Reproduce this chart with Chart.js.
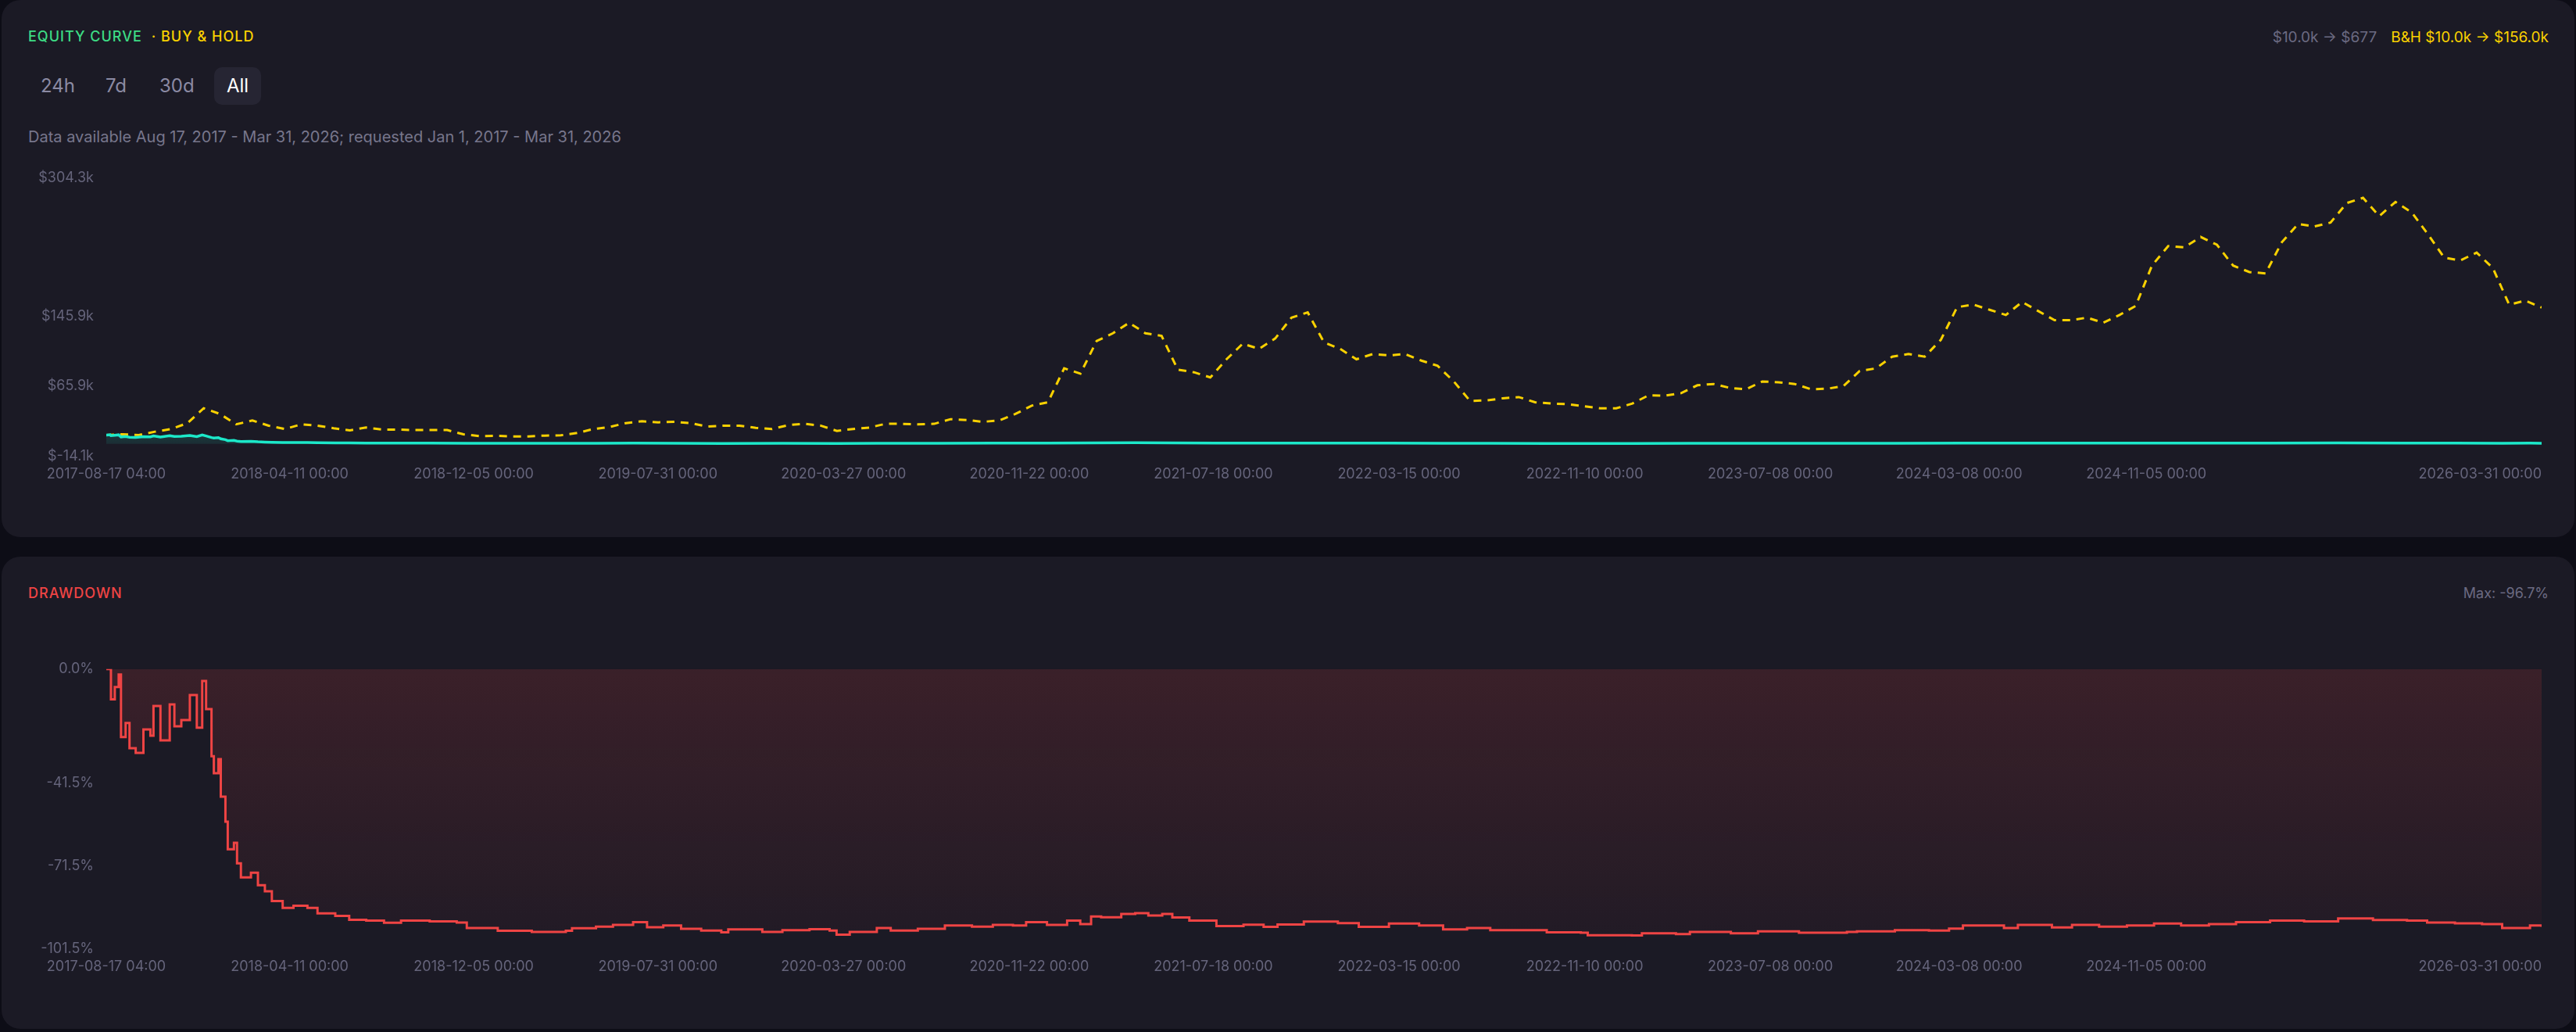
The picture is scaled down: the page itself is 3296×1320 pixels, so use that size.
<!DOCTYPE html>
<html>
<head>
<meta charset="utf-8">
<script src="https://cdn.jsdelivr.net/npm/chart.js@4.4.1/dist/chart.umd.min.js"></script>
<style>
  html, body { margin: 0; padding: 0; }
  body {
    width: 3296px; height: 1320px; overflow: hidden;
    background: #0d0d16;
    font-family: Inter, "Noto Sans", sans-serif;
    position: relative;
  }
  .card { position: absolute; left: 2px; width: 3292px; background: #1b1a25; border-radius: 24px; }
  .abs { position: absolute; white-space: nowrap; }
  .title { font-size: 18px; line-height: 18px; letter-spacing: 1px; font-weight: 500; }
  .meta { font-size: 19px; line-height: 19px; }
  .btn {
    position: absolute; top: 86px; height: 48px; line-height: 48px;
    padding: 0 16px; font-size: 24px; color: #8b8aa3; border-radius: 10px;
  }
  .btn.on { background: #262533; color: #ffffff; }
  canvas { position: absolute; }
</style>
</head>
<body>
<div class="card" style="top:0;height:687px"></div>
<div class="card" style="top:712px;height:604px"></div>

<div class="abs title" style="left:36px;top:38px">
  <span style="color:#3ddc84">EQUITY CURVE</span><span style="color:#f9d100;margin-left:12px">· BUY &amp; HOLD</span>
</div>
<div class="abs meta" style="right:35px;top:38px">
  <span style="color:#6b6a82">$10.0k → $677</span><span style="color:#f9d100;margin-left:18px">B&amp;H $10.0k → $156.0k</span>
</div>

<div class="btn" style="left:36px">24h</div>
<div class="btn" style="left:119px">7d</div>
<div class="btn" style="left:188px">30d</div>
<div class="btn on" style="left:274px">All</div>

<div class="abs" style="left:36px;top:165px;color:#77768c;font-size:20px;line-height:20px">Data available Aug 17, 2017 - Mar 31, 2026; requested Jan 1, 2017 - Mar 31, 2026</div>

<canvas id="equity" width="3228" height="428" style="left:36px;top:201px;width:3228px;height:428px"></canvas>

<div class="abs title" style="left:36px;top:750px;color:#ef4444">DRAWDOWN</div>
<div class="abs" style="right:35px;top:750px;color:#6b6a82;font-size:18px;line-height:18px">Max: -96.7%</div>

<canvas id="drawdown" width="3228" height="430" style="left:36px;top:829px;width:3228px;height:430px"></canvas>

<script>
// x axis is days since 2017-08-17 04:00
const TOTAL_DAYS = 3148;
const tickDays = [0, 237, 475, 713, 953, 1193, 1431, 1671, 1911, 2151, 2395, 2637, 3148];
const tickLabels = [
  "2017-08-17 04:00", "2018-04-11 00:00", "2018-12-05 00:00", "2019-07-31 00:00",
  "2020-03-27 00:00", "2020-11-22 00:00", "2021-07-18 00:00", "2022-03-15 00:00",
  "2022-11-10 00:00", "2023-07-08 00:00", "2024-03-08 00:00", "2024-11-05 00:00",
  "2026-03-31 00:00"
];

// buy & hold value in $k, one sample every TOTAL_DAYS/150 days
const bhValues = [
  10.0, 10.9, 10.0, 13.9, 16.9, 23.7, 40.7, 34.2, 22.3, 26.7,
  20.8, 16.9, 22.3, 20.8, 17.8, 15.4, 18.6, 16.3, 16.3, 15.7,
  15.7, 15.7, 10.9, 8.8, 9.1, 8.5, 8.5, 9.4, 9.7, 12.4,
  16.9, 19.3, 23.7, 25.8, 24.6, 25.2, 23.7, 19.8, 20.8, 20.8,
  18.3, 16.9, 21.4, 22.9, 20.8, 14.8, 16.9, 18.6, 22.9, 22.9,
  22.3, 22.9, 28.2, 27.3, 25.2, 26.7, 34.2, 43.7, 47.6, 86.4,
  80.4, 117.7, 126.6, 138.6, 126.6, 123.6, 84.9, 81.9, 76.0, 96.8,
  114.7, 108.7, 120.7, 144.5, 150.5, 116.2, 108.7, 96.8, 102.8, 101.3,
  102.8, 95.3, 89.3, 71.4, 49.1, 49.7, 52.1, 53.5, 47.6, 46.1,
  45.5, 43.1, 40.7, 40.7, 46.1, 55.6, 55.1, 58.0, 67.0, 68.5,
  64.0, 62.5, 71.4, 70.5, 68.5, 62.5, 63.1, 66.1, 83.4, 86.4,
  99.8, 102.8, 99.8, 119.2, 156.5, 159.4, 153.5, 147.5, 162.4, 152.0,
  141.5, 141.5, 144.5, 138.6, 147.5, 157.9, 204.1, 226.5, 225.0, 236.9,
  228.0, 204.1, 196.7, 195.2, 230.9, 251.8, 248.9, 253.3, 275.7, 281.7,
  260.8, 277.0, 265.0, 239.9, 213.1, 210.1, 219.0, 201.2, 159.4, 163.9,
  156.0
];

// strategy equity in $k
const eqDays = [
  0, 5, 6, 11, 16, 19, 25, 30, 38, 48, 57, 61, 70, 82, 88, 97, 108, 117, 124, 129,
  136, 139, 145, 148, 154, 157, 165, 169, 174, 187, 196, 205, 214, 228, 242, 260, 273, 296, 314, 336,
  359, 381, 418, 466, 550, 633, 681, 743, 795, 874, 944, 996, 1075, 1146, 1216, 1273, 1330, 1378, 1435, 1514,
  1592, 1658, 1728, 1789, 1862, 1915, 1972, 2047, 2135, 2250, 2312, 2400, 2471, 2541, 2647, 2753, 2797, 2885, 2974, 3036,
  3097, 3133, 3148
];
const eqValues = [
  10.0, 10.4, 9.3, 9.8, 10.3, 7.9, 8.4, 7.5, 7.3, 8.2, 8.0, 9.1, 7.8, 9.2, 8.4, 8.6, 9.5, 8.3, 10.1, 9.0,
  7.2, 6.6, 7.1, 5.7, 4.7, 3.6, 3.9, 3.1, 2.6, 2.8, 2.3, 2.0, 1.7, 1.4, 1.5, 1.4, 1.2, 1.1, 0.95, 0.92,
  0.84, 0.92, 0.89, 0.64, 0.49, 0.69, 0.86, 0.60, 0.47, 0.55, 0.38, 0.64, 0.60, 0.75, 0.75, 1.08, 1.21, 1.04, 0.71, 0.77,
  0.83, 0.80, 0.58, 0.55, 0.47, 0.36, 0.34, 0.49, 0.51, 0.49, 0.55, 0.73, 0.75, 0.75, 0.80, 0.86, 0.92, 1.01, 0.92, 0.82,
  0.64, 0.73, 0.677
];

// drawdown in %
const ddDays = [
  0, 5, 6, 11, 16, 19, 25, 30, 38, 48, 57, 61, 70, 82, 88, 97, 108, 117, 124, 129,
  136, 139, 145, 148, 154, 157, 165, 169, 174, 187, 196, 205, 214, 228, 242, 260, 273, 296, 314, 336,
  359, 381, 418, 453, 466, 506, 550, 594, 602, 633, 655, 681, 699, 720, 743, 769, 795, 804, 848, 874,
  909, 935, 944, 961, 996, 1014, 1049, 1075, 1084, 1119, 1146, 1172, 1189, 1216, 1242, 1259, 1273, 1286, 1312, 1330,
  1347, 1365, 1378, 1400, 1435, 1470, 1496, 1514, 1548, 1592, 1619, 1658, 1697, 1728, 1759, 1789, 1826, 1862, 1906, 1915,
  1972, 1985, 2029, 2047, 2100, 2135, 2188, 2250, 2263, 2312, 2356, 2382, 2400, 2427, 2453, 2471, 2515, 2541, 2576, 2612,
  2647, 2682, 2718, 2753, 2797, 2841, 2885, 2930, 2974, 3000, 3036, 3071, 3097, 3133, 3148
];
const ddValues = [
  0, 0, -11.0, -6.5, -2.0, -24.7, -19.6, -28.7, -30.4, -21.9, -24.2, -13.4, -25.9, -12.8, -20.8, -18.5, -9.4, -21.3, -4.3, -14.5,
  -31.6, -37.8, -32.7, -46.3, -55.4, -65.4, -63.1, -70.5, -75.6, -73.9, -78.5, -80.7, -84.2, -86.7, -85.9, -86.7, -88.7, -89.6, -91.0, -91.3,
  -92.1, -91.3, -91.6, -92.0, -94.0, -95.0, -95.4, -95.0, -94.1, -93.5, -92.9, -91.9, -93.7, -93.1, -94.3, -94.9, -95.6, -94.5, -95.4, -94.8,
  -94.4, -94.9, -96.4, -95.4, -94.0, -94.9, -94.3, -94.3, -93.1, -93.5, -92.9, -93.1, -91.9, -92.9, -91.3, -92.6, -89.8, -90.1, -88.9, -88.6,
  -89.5, -88.9, -90.2, -91.3, -93.3, -92.8, -93.6, -92.7, -91.7, -92.2, -93.6, -92.4, -93.1, -94.5, -94.0, -94.8, -94.8, -95.6, -95.7, -96.6,
  -96.7, -95.9, -96.2, -95.4, -95.9, -95.2, -95.7, -95.4, -95.2, -94.8, -94.9, -94.2, -93.1, -93.1, -94.0, -92.9, -93.8, -92.9, -93.5, -93.1,
  -92.4, -93.1, -92.6, -91.9, -91.3, -91.6, -90.5, -91.1, -91.3, -92.0, -92.3, -92.6, -94.0, -93.1, -93.6
];

const equityTicks = [-14.1, 65.9, 145.9, 304.3];
const ddTicks = [-101.5, -71.5, -41.5, 0];

const TICK_COLOR = '#65647b';
Chart.defaults.font.family = 'Inter, "Noto Sans", sans-serif';
Chart.defaults.font.size = 18;
Chart.defaults.color = TICK_COLOR;

function xAxis() {
  return {
    type: 'linear',
    min: 0,
    max: TOTAL_DAYS,
    grid: { display: false, drawTicks: false },
    border: { display: false },
    afterBuildTicks: (scale) => {
      // leading empty tick so the real first label stays centred while the last one is pushed inside
      scale.ticks = [{ value: 0 }].concat(tickDays.map(d => ({ value: d })));
    },
    ticks: {
      autoSkip: false,
      maxRotation: 0,
      align: 'inner',
      padding: 12,
      color: TICK_COLOR,
      callback: (v, i) => i === 0 ? '' : tickLabels[i - 1]
    }
  };
}

function yAxis(min, max, ticksList, fmt) {
  return {
    min: min,
    max: max,
    grid: { display: false, drawTicks: false },
    border: { display: false },
    afterFit: (scale) => { scale.width = 100; },
    afterBuildTicks: (scale) => { scale.ticks = ticksList.map(v => ({ value: v })); },
    ticks: { padding: 16, color: TICK_COLOR, callback: fmt }
  };
}

const fmtK = v => '$' + v.toFixed(1) + 'k';
const fmtPct = v => v.toFixed(1) + '%';

new Chart(document.getElementById('equity'), {
  type: 'line',
  data: {
    datasets: [
      {
        label: 'Equity',
        data: eqDays.map((d, i) => ({ x: d, y: eqValues[i] })),
        borderColor: '#1ce8c9',
        borderWidth: 3.5,
        pointRadius: 0,
        tension: 0,
        fill: 'origin',
        backgroundColor: (ctx) => {
          const area = ctx.chart.chartArea;
          if (!area) return 'rgba(28,232,201,0.1)';
          const g = ctx.chart.ctx.createLinearGradient(0, area.bottom - 30, 0, area.bottom);
          g.addColorStop(0, 'rgba(28,232,201,0.16)');
          g.addColorStop(1, 'rgba(28,232,201,0.02)');
          return g;
        }
      },
      {
        label: 'Buy & Hold',
        data: bhValues.map((v, i) => ({ x: i * TOTAL_DAYS / (bhValues.length - 1), y: v })),
        borderColor: '#f9d100',
        borderWidth: 3,
        borderDash: [10, 8],
        pointRadius: 0,
        tension: 0,
        fill: false
      }
    ]
  },
  options: {
    responsive: false,
    animation: false,
    devicePixelRatio: 1,
    layout: { padding: 0 },
    plugins: { legend: { display: false }, tooltip: { enabled: false } },
    scales: {
      x: xAxis(),
      y: yAxis(-14.1, 304.3, equityTicks, fmtK)
    }
  }
});

new Chart(document.getElementById('drawdown'), {
  type: 'line',
  data: {
    datasets: [{
      label: 'Drawdown',
      data: ddDays.map((d, i) => ({ x: d, y: ddValues[i] })),
      borderColor: '#ef4444',
      borderWidth: 3,
      pointRadius: 0,
      stepped: true,
      fill: 'origin',
      backgroundColor: (ctx) => {
        const area = ctx.chart.chartArea;
        if (!area) return 'rgba(239,68,68,0.1)';
        const g = ctx.chart.ctx.createLinearGradient(0, area.top, 0, area.bottom);
        g.addColorStop(0, 'rgba(239,68,68,0.15)');
        g.addColorStop(1, 'rgba(239,68,68,0.03)');
        return g;
      }
    }]
  },
  options: {
    responsive: false,
    animation: false,
    devicePixelRatio: 1,
    layout: { padding: 0 },
    plugins: { legend: { display: false }, tooltip: { enabled: false } },
    scales: {
      x: xAxis(),
      y: yAxis(-101.5, 0, ddTicks, fmtPct)
    }
  }
});
</script>
</body>
</html>
